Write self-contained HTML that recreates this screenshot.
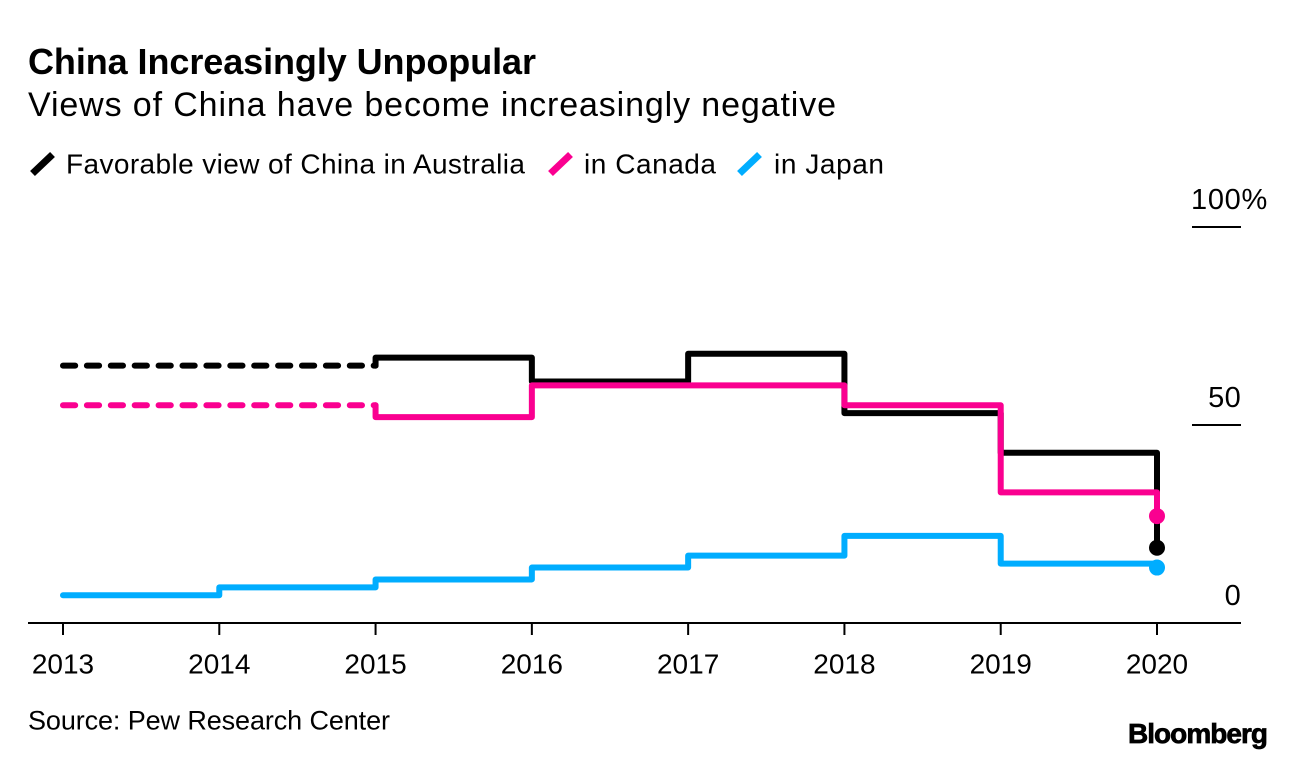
<!DOCTYPE html>
<html lang="en">
<head>
<meta charset="utf-8">
<title>China Increasingly Unpopular</title>
<style>
html,body{margin:0;padding:0;background:#fff;}
svg{display:block;font-family:"Liberation Sans",Arial,sans-serif;fill:#000;}
</style>
</head>
<body>
<svg id="chart" xmlns="http://www.w3.org/2000/svg" width="1296" height="760" viewBox="0 0 1296 760">
  <rect x="0" y="0" width="1296" height="760" fill="#fff"/>
  <text x="28" y="74" font-size="36" font-weight="700" textLength="508" lengthAdjust="spacing">China Increasingly Unpopular</text>
  <text x="28" y="116" font-size="34" textLength="808" lengthAdjust="spacing">Views of China have become increasingly negative</text>

  <g>
    <line x1="32.5" y1="173.5" x2="52.5" y2="154.5" stroke="#000" stroke-width="7"/>
    <text x="66" y="173.5" font-size="28" textLength="459" lengthAdjust="spacing">Favorable view of China in Australia</text>
    <line x1="550.5" y1="173.5" x2="570.5" y2="154.5" stroke="#fa0090" stroke-width="7"/>
    <text x="584" y="173.5" font-size="28" textLength="132" lengthAdjust="spacing">in Canada</text>
    <line x1="739.5" y1="173.5" x2="759.5" y2="154.5" stroke="#00adff" stroke-width="7"/>
    <text x="774" y="173.5" font-size="28" textLength="110" lengthAdjust="spacing">in Japan</text>
  </g>

  <g id="y-axis"></g>
  <g id="x-axis"></g>
  <g id="series"></g>

  <text x="28" y="729.5" font-size="27" textLength="362" lengthAdjust="spacing">Source: Pew Research Center</text>
  <text x="1128" y="743" font-size="28" font-weight="700" stroke="#000" stroke-width="0.7" textLength="140" lengthAdjust="spacing">Bloomberg</text>
</svg>
<script>
var years = [2013, 2014, 2015, 2016, 2017, 2018, 2019, 2020];
var australia = [65, 65, 67, 61, 68, 53, 43, 19];
var canada = [55, 55, 52, 60, 60, 55, 33, 27];
var japan = [7, 9, 11, 14, 17, 22, 15, 14];
var yTicks = [0, 50, 100];
var yTickLabels = ['0', '50', '100%'];
var australiaDashedUntil = 2015;
var canadaDashedUntil = 2015;
var japanDashedUntil = 2013;

var NS = 'http://www.w3.org/2000/svg';
function xScale(year) {
  return 63 + (year - 2013) * (1157 - 63) / 7;
}
function yScale(value) {
  return 623 - value * 3.96;
}
function make(tag, attrs, parent) {
  var el = document.createElementNS(NS, tag);
  for (var k in attrs) el.setAttribute(k, attrs[k]);
  parent.appendChild(el);
  return el;
}

var yAxis = document.getElementById('y-axis');
yTicks.forEach(function (t, i) {
  var isPercent = yTickLabels[i].indexOf('%') >= 0;
  var label = make('text', {x: isPercent ? 1268 : 1241, y: yScale(t) - 18, 'font-size': 29, 'text-anchor': 'end', 'letter-spacing': isPercent ? 0.7 : 0.3}, yAxis);
  
  
  label.textContent = yTickLabels[i];
  if (t > 0) {
    var rule = make('line', {x1: 1192, x2: 1241, y1: yScale(t), y2: yScale(t), stroke: '#000', 'stroke-width': 2}, yAxis);
    
    
  }
});

var xAxis = document.getElementById('x-axis');
var baseline = make('line', {x1: 28, x2: 1241, y1: yScale(0), y2: yScale(0), stroke: '#000', 'stroke-width': 2}, xAxis);


years.forEach(function (year) {
  var tick = make('line', {x1: xScale(year), x2: xScale(year), y1: yScale(0), y2: yScale(0) + 12, stroke: '#000', 'stroke-width': 2}, xAxis);
  
  
  var label = make('text', {x: xScale(year), y: 673.5, 'font-size': 28, 'text-anchor': 'middle'}, xAxis);
  
  
  label.textContent = year;
});

function drawSeries(values, color, dashedUntil, name) {
  var host = document.getElementById('series');
  var group = make('g', {fill: 'none', stroke: color, 'stroke-width': 6, 'stroke-linejoin': 'round', 'stroke-linecap': 'round'}, host);
  
  

  var dashed = '';
  var solid = '';
  for (var i = 0; i < years.length - 1; i++) {
    var x0 = xScale(years[i]);
    var x1 = xScale(years[i + 1]);
    var y0 = yScale(values[i]);
    var y1 = yScale(values[i + 1]);
    if (years[i] < dashedUntil) {
      dashed += (dashed ? 'L' : 'M') + x0 + ' ' + y0 + 'L' + x1 + ' ' + y0;
    } else {
      solid += (solid ? 'L' : 'M') + x0 + ' ' + y0 + 'L' + x1 + ' ' + y0;
    }
    if (i === years.length - 2) {
      solid += 'L' + x1 + ' ' + y1;
    }
  }
  if (dashed) {
    var dashLine = make('path', {d: dashed, 'stroke-dasharray': '12.2 11.7'}, group);
    
    
    var firstSolid = years.indexOf(dashedUntil);
    solid = 'M' + xScale(dashedUntil) + ' ' + yScale(values[firstSolid - 1]) + 'L' + solid.slice(1);
  }
  var line = make('path', {d: solid}, group);
  
  

  var last = years.length - 1;
  var dot = make('circle', {cx: xScale(years[last]), cy: yScale(values[last]), r: 8, fill: color, stroke: 'none'}, group);
  
  
}

drawSeries(australia, '#000000', australiaDashedUntil, 'australia');
drawSeries(canada, '#fa0090', canadaDashedUntil, 'canada');
drawSeries(japan, '#00adff', japanDashedUntil, 'japan');
</script>
</body>
</html>
